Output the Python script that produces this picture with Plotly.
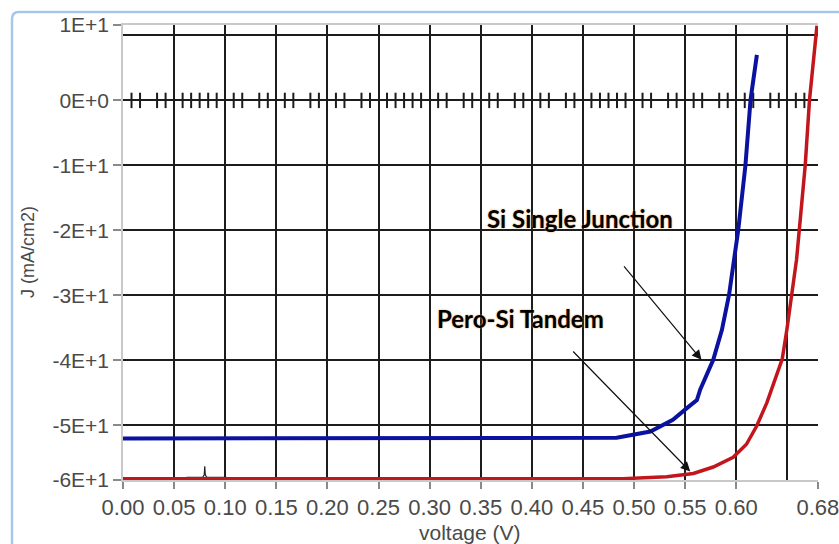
import plotly.graph_objects as go

# ---------------- data ----------------
si_v = [0.000, 0.450, 0.483, 0.516, 0.538, 0.552, 0.5615, 0.5647, 0.5775, 0.586,
        0.593, 0.602, 0.609, 0.614, 0.6202]
si_j = [-52.0, -52.0, -51.9, -50.95, -49.15, -47.3, -46.1, -44.5, -39.9, -35.3,
        -29.9, -19.9, -10.0, 0.1, 7.0]

tandem_v = [0.000, 0.489, 0.532, 0.558, 0.5775, 0.597, 0.610, 0.620, 0.630, 0.640,
            0.645, 0.6496, 0.6544, 0.659, 0.6617, 0.6675, 0.6717, 0.678, 0.679]
tandem_j = [-58.2, -58.2, -57.9, -57.4, -56.4, -54.9, -52.9, -50.1, -46.5, -42.1,
            -39.8, -35.2, -29.8, -24.5, -19.9, -10.0, 0.1, 10.8, 11.5]

# small black glitch near the bottom at ~0.08 V
glitch_v = [0.062, 0.078, 0.0795, 0.080, 0.0805, 0.082, 0.1015]
glitch_j = [-58.0, -58.0, -57.6, -56.3, -57.6, -58.0, -58.0]

# axis extents and labels
X_MIN, X_MAX = 0.0, 0.68
Y_MIN, Y_MAX = -58.4, 11.6
x_tick_vals = [0.00, 0.05, 0.10, 0.15, 0.20, 0.25, 0.30, 0.35, 0.40, 0.45, 0.50, 0.55, 0.60, 0.6799]
x_tick_text = ["0.00", "0.05", "0.10", "0.15", "0.20", "0.25", "0.30", "0.35", "0.40",
               "0.45", "0.50", "0.55", "0.60", "0.68"]
x_grid_vals = [0.05, 0.10, 0.15, 0.20, 0.25, 0.30, 0.35, 0.40, 0.45, 0.50, 0.55, 0.60, 0.65]
y_tick_vals = [Y_MAX, 0, -10, -20, -30, -40, -50, Y_MIN]
y_tick_text = ["1E+1", "0E+0", "-1E+1", "-2E+1", "-3E+1", "-4E+1", "-5E+1", "-6E+1"]
y_grid_vals = [10, 0, -10, -20, -30, -40, -50]

# minor tick marks drawn on the zero line (1/6 of each 0.05 step)
full_steps = [1, 5, 9]
zero_ticks = []
for k in range(14):
    for j in (1, 2, 3, 4, 5):
        if j == 3 and k not in full_steps:
            continue
        v = round(k * 0.05 + j * 0.05 / 6, 5)
        if v < 0.672:
            zero_ticks.append(v)

# annotation labels
labels = ["Si Single Junction", "Pero-Si Tandem"]
label_pos = [(0.447, -18.2), (0.3885, -33.5)]
arrow_tail = [(0.489, -25.3), (0.439, -38.4)]
arrow_tip = [(0.566, -39.9), (0.555, -57.1)]

# ---------------- figure ----------------
GRID = "#1c1c1c"
AXC = "#c9c9c9"
TXT = "#4a4a4a"

# plot-area geometry in pixels (for frame / titles in paper units)
px0, py0 = 123.0, 480.0
pw, ph = 695.0, 455.0
def to_paper(x, y):
    return (x - px0) / pw, (py0 - y) / ph

fig = go.Figure()

fig.add_trace(go.Scatter(
    x=zero_ticks, y=[0] * len(zero_ticks), mode="markers",
    marker=dict(symbol="line-ns", size=11, line=dict(width=2, color=GRID), color=GRID),
    hoverinfo="skip", showlegend=False))

fig.add_trace(go.Scatter(
    x=glitch_v, y=glitch_j, mode="lines",
    line=dict(color="#222222", width=1.2), hoverinfo="skip", showlegend=False))

fig.add_trace(go.Scatter(
    x=tandem_v, y=tandem_j, mode="lines", name="Pero-Si Tandem",
    line=dict(color="#c3161c", width=3.5), showlegend=False))

fig.add_trace(go.Scatter(
    x=si_v, y=si_j, mode="lines", name="Si Single Junction",
    line=dict(color="#0b12a0", width=4), showlegend=False))

annotations = []
for txt, (lx, ly) in zip(labels, label_pos):
    annotations.append(dict(
        x=lx, y=ly, xref="x", yref="y", text=txt, showarrow=False,
        xanchor="center", yanchor="middle",
        font=dict(family="Lato, Open Sans, sans-serif", size=24, color="#000000",
                  weight="bold", shadow="0px 0px 2px #d89a55")))
for (tx, ty), (hx, hy) in zip(arrow_tail, arrow_tip):
    annotations.append(dict(
        x=hx, y=hy, ax=tx, ay=ty, xref="x", yref="y", axref="x", ayref="y",
        text="", showarrow=True, arrowhead=2, arrowsize=1.6, arrowwidth=1.2,
        arrowcolor="#111111"))

# axis titles
xt_x, xt_y = to_paper(470, 532)
annotations.append(dict(x=xt_x, y=xt_y, xref="paper", yref="paper", text="voltage (V)",
                        xanchor="center", yanchor="middle",
                        showarrow=False, font=dict(size=21, color=TXT)))
yt_x, yt_y = to_paper(28, 252)
annotations.append(dict(x=yt_x, y=yt_y, xref="paper", yref="paper", text="J (mA/cm2)",
                        xanchor="center", yanchor="middle",
                        textangle=-90, showarrow=False, font=dict(size=18, color=TXT)))

# outer light-blue rounded frame (partly outside window, as in reference)
x_l, y_t = to_paper(12, 12)
x_r, y_b = to_paper(860, 560)
rx, ry = 7 / pw, 7 / ph
frame_path = (f"M {x_l},{y_b} L {x_l},{y_t - ry} Q {x_l},{y_t} {x_l + rx},{y_t} "
              f"L {x_r},{y_t}")

fig.update_layout(
    width=839, height=544,
    margin=dict(l=123, r=21, t=25, b=64),
    paper_bgcolor="white", plot_bgcolor="white",
    font=dict(family="Liberation Sans, Arial, sans-serif", color=TXT),
    showlegend=False,
    annotations=annotations,
    shapes=[dict(type="path", path=frame_path, xref="paper", yref="paper",
                 line=dict(color="#a9c6e8", width=2.5), layer="above")],
    xaxis=dict(
        range=[X_MIN, X_MAX], tickmode="array", tickvals=x_tick_vals, ticktext=x_tick_text,
        tickangle=0, ticks="outside", ticklen=7, tickwidth=1.5, tickcolor="#8a8a8a",
        tickfont=dict(size=22, color=TXT), automargin=False, ticklabeloverflow="allow",
        showgrid=False, zeroline=False,
        showline=True, mirror=True, linecolor=AXC, linewidth=1.5,
        minor=dict(tickmode="array", tickvals=x_grid_vals, showgrid=True,
                   gridcolor=GRID, gridwidth=2, ticks=""),
    ),
    yaxis=dict(
        range=[Y_MIN, Y_MAX], tickmode="array", tickvals=y_tick_vals, ticktext=y_tick_text,
        ticks="outside", ticklen=8, tickwidth=1.5, tickcolor="#8a8a8a",
        tickfont=dict(size=21, color=TXT), automargin=False, ticklabeloverflow="allow",
        showgrid=False, zeroline=False,
        showline=True, mirror=False, linecolor=AXC, linewidth=1.5,
        minor=dict(tickmode="array", tickvals=y_grid_vals, showgrid=True,
                   gridcolor=GRID, gridwidth=2, ticks=""),
    ),
)

fig.write_html("out.html")
